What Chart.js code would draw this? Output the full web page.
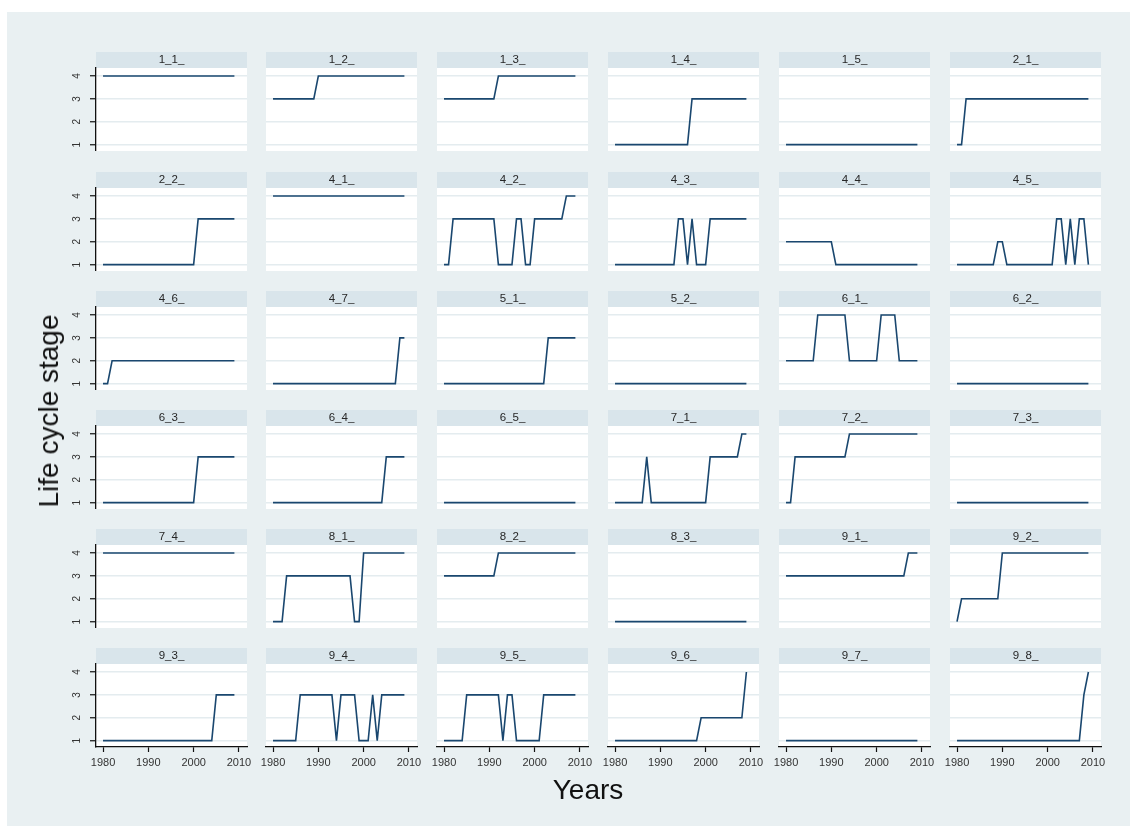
<!DOCTYPE html>
<html>
<head>
<meta charset="utf-8">
<script src="https://cdn.jsdelivr.net/npm/chart.js@4.4.1/dist/chart.umd.min.js"></script>
<style>
  html, body { margin: 0; padding: 0; background: #ffffff; }
  body { width: 1130px; height: 826px; position: relative; overflow: hidden;
         font-family: "Liberation Sans", Arial, sans-serif; }
  #bg { position: absolute; left: 7px; top: 12px; width: 1123px; height: 814px; background: #e9f0f2; }
  canvas { position: absolute; }
  .axis-title { position: absolute; color: #111; font-size: 28px; line-height: 28px; white-space: nowrap; }
  #ytitle { left: 49px; top: 411px; transform: translate(-50%, -50%) rotate(-90deg); }
  #xtitle { left: 588px; top: 776px; transform: translateX(-50%); }
</style>
</head>
<body>
<div id="bg"></div>
<div id="panels"></div>
<div id="ytitle" class="axis-title">Life cycle stage</div>
<div id="xtitle" class="axis-title">Years</div>
<script>
// Observation years (one value per year for every unit)
const years = [1980, 1981, 1982, 1983, 1984, 1985, 1986, 1987, 1988, 1989,
               1990, 1991, 1992, 1993, 1994, 1995, 1996, 1997, 1998, 1999,
               2000, 2001, 2002, 2003, 2004, 2005, 2006, 2007, 2008, 2009];

const xTickValues = [1980, 1990, 2000, 2010];
const yTickValues = [1, 2, 3, 4];

// Life cycle stage by year, one array per unit
const p1_1 = [4,4,4,4,4,4,4,4,4,4, 4,4,4,4,4,4,4,4,4,4, 4,4,4,4,4,4,4,4,4,4];
const p1_2 = [3,3,3,3,3,3,3,3,3,3, 4,4,4,4,4,4,4,4,4,4, 4,4,4,4,4,4,4,4,4,4];
const p1_3 = [3,3,3,3,3,3,3,3,3,3, 3,3,4,4,4,4,4,4,4,4, 4,4,4,4,4,4,4,4,4,4];
const p1_4 = [1,1,1,1,1,1,1,1,1,1, 1,1,1,1,1,1,1,3,3,3, 3,3,3,3,3,3,3,3,3,3];
const p1_5 = [1,1,1,1,1,1,1,1,1,1, 1,1,1,1,1,1,1,1,1,1, 1,1,1,1,1,1,1,1,1,1];
const p2_1 = [1,1,3,3,3,3,3,3,3,3, 3,3,3,3,3,3,3,3,3,3, 3,3,3,3,3,3,3,3,3,3];

const p2_2 = [1,1,1,1,1,1,1,1,1,1, 1,1,1,1,1,1,1,1,1,1, 1,3,3,3,3,3,3,3,3,3];
const p4_1 = [4,4,4,4,4,4,4,4,4,4, 4,4,4,4,4,4,4,4,4,4, 4,4,4,4,4,4,4,4,4,4];
const p4_2 = [1,1,3,3,3,3,3,3,3,3, 3,3,1,1,1,1,3,3,1,1, 3,3,3,3,3,3,3,4,4,4];
const p4_3 = [1,1,1,1,1,1,1,1,1,1, 1,1,1,1,3,3,1,3,1,1, 1,3,3,3,3,3,3,3,3,3];
const p4_4 = [2,2,2,2,2,2,2,2,2,2, 2,1,1,1,1,1,1,1,1,1, 1,1,1,1,1,1,1,1,1,1];
const p4_5 = [1,1,1,1,1,1,1,1,1,2, 2,1,1,1,1,1,1,1,1,1, 1,1,3,3,1,3,1,3,3,1];

const p4_6 = [1,1,2,2,2,2,2,2,2,2, 2,2,2,2,2,2,2,2,2,2, 2,2,2,2,2,2,2,2,2,2];
const p4_7 = [1,1,1,1,1,1,1,1,1,1, 1,1,1,1,1,1,1,1,1,1, 1,1,1,1,1,1,1,1,3,3];
const p5_1 = [1,1,1,1,1,1,1,1,1,1, 1,1,1,1,1,1,1,1,1,1, 1,1,1,3,3,3,3,3,3,3];
const p5_2 = [1,1,1,1,1,1,1,1,1,1, 1,1,1,1,1,1,1,1,1,1, 1,1,1,1,1,1,1,1,1,1];
const p6_1 = [2,2,2,2,2,2,2,4,4,4, 4,4,4,4,2,2,2,2,2,2, 2,4,4,4,4,2,2,2,2,2];
const p6_2 = [1,1,1,1,1,1,1,1,1,1, 1,1,1,1,1,1,1,1,1,1, 1,1,1,1,1,1,1,1,1,1];

const p6_3 = [1,1,1,1,1,1,1,1,1,1, 1,1,1,1,1,1,1,1,1,1, 1,3,3,3,3,3,3,3,3,3];
const p6_4 = [1,1,1,1,1,1,1,1,1,1, 1,1,1,1,1,1,1,1,1,1, 1,1,1,1,1,3,3,3,3,3];
const p6_5 = [1,1,1,1,1,1,1,1,1,1, 1,1,1,1,1,1,1,1,1,1, 1,1,1,1,1,1,1,1,1,1];
const p7_1 = [1,1,1,1,1,1,1,3,1,1, 1,1,1,1,1,1,1,1,1,1, 1,3,3,3,3,3,3,3,4,4];
const p7_2 = [1,1,3,3,3,3,3,3,3,3, 3,3,3,3,4,4,4,4,4,4, 4,4,4,4,4,4,4,4,4,4];
const p7_3 = [1,1,1,1,1,1,1,1,1,1, 1,1,1,1,1,1,1,1,1,1, 1,1,1,1,1,1,1,1,1,1];

const p7_4 = [4,4,4,4,4,4,4,4,4,4, 4,4,4,4,4,4,4,4,4,4, 4,4,4,4,4,4,4,4,4,4];
const p8_1 = [1,1,1,3,3,3,3,3,3,3, 3,3,3,3,3,3,3,3,1,1, 4,4,4,4,4,4,4,4,4,4];
const p8_2 = [3,3,3,3,3,3,3,3,3,3, 3,3,4,4,4,4,4,4,4,4, 4,4,4,4,4,4,4,4,4,4];
const p8_3 = [1,1,1,1,1,1,1,1,1,1, 1,1,1,1,1,1,1,1,1,1, 1,1,1,1,1,1,1,1,1,1];
const p9_1 = [3,3,3,3,3,3,3,3,3,3, 3,3,3,3,3,3,3,3,3,3, 3,3,3,3,3,3,3,4,4,4];
const p9_2 = [1,2,2,2,2,2,2,2,2,2, 4,4,4,4,4,4,4,4,4,4, 4,4,4,4,4,4,4,4,4,4];

const p9_3 = [1,1,1,1,1,1,1,1,1,1, 1,1,1,1,1,1,1,1,1,1, 1,1,1,1,1,3,3,3,3,3];
const p9_4 = [1,1,1,1,1,1,3,3,3,3, 3,3,3,3,1,3,3,3,3,1, 1,1,3,1,3,3,3,3,3,3];
const p9_5 = [1,1,1,1,1,3,3,3,3,3, 3,3,3,1,3,3,1,1,1,1, 1,1,3,3,3,3,3,3,3,3];
const p9_6 = [1,1,1,1,1,1,1,1,1,1, 1,1,1,1,1,1,1,1,1,2, 2,2,2,2,2,2,2,2,2,4];
const p9_7 = [1,1,1,1,1,1,1,1,1,1, 1,1,1,1,1,1,1,1,1,1, 1,1,1,1,1,1,1,1,1,1];
const p9_8 = [1,1,1,1,1,1,1,1,1,1, 1,1,1,1,1,1,1,1,1,1, 1,1,1,1,1,1,1,1,3,4];

// Panel captions, in reading order (6 per row)
const panelLabels = [
  '1_1_', '1_2_', '1_3_', '1_4_', '1_5_', '2_1_',
  '2_2_', '4_1_', '4_2_', '4_3_', '4_4_', '4_5_',
  '4_6_', '4_7_', '5_1_', '5_2_', '6_1_', '6_2_',
  '6_3_', '6_4_', '6_5_', '7_1_', '7_2_', '7_3_',
  '7_4_', '8_1_', '8_2_', '8_3_', '9_1_', '9_2_',
  '9_3_', '9_4_', '9_5_', '9_6_', '9_7_', '9_8_'
];
const panelSeries = [
  p1_1, p1_2, p1_3, p1_4, p1_5, p2_1,
  p2_2, p4_1, p4_2, p4_3, p4_4, p4_5,
  p4_6, p4_7, p5_1, p5_2, p6_1, p6_2,
  p6_3, p6_4, p6_5, p7_1, p7_2, p7_3,
  p7_4, p8_1, p8_2, p8_3, p9_1, p9_2,
  p9_3, p9_4, p9_5, p9_6, p9_7, p9_8
];

// Grid geometry
const NCOL = 6;
const colLeft = [96, 266, 437, 608, 779, 950];
const rowTop = [52, 172, 291, 410, 529, 648];
const PANEL_W = 151, HEAD_H = 16, PLOT_H = 83;
const AXIS_W = 40, RIGHT_PAD = 16, XAXIS_H = 22;

const FONT = 'Liberation Sans, Arial, sans-serif';
const LINE_COLOR = '#1a476f';
const GRID_COLOR = '#e4ecef';
const HEAD_FILL = '#d9e5eb';
const AXIS_COLOR = '#111111';
const TICK_TEXT = '#333333';

// Paints the caption strip and the white plotting region
const panelBackground = {
  id: 'panelBackground',
  beforeDraw(chart) {
    const ctx = chart.ctx, a = chart.chartArea, t = chart.titleBlock;
    ctx.save();
    ctx.fillStyle = HEAD_FILL;
    ctx.fillRect(a.left, t.top, a.right - a.left, t.height);
    ctx.fillStyle = '#ffffff';
    ctx.fillRect(a.left, a.top, a.right - a.left, a.bottom - a.top);
    ctx.restore();
  }
};

// Keep every panel's plotting area the same fixed size
const fixScale = size => s => {
  if (s.isHorizontal()) { s.height = size; } else { s.width = size; }
  s.paddingTop = 0; s.paddingBottom = 0; s.paddingLeft = 0; s.paddingRight = 0;
};

const host = document.getElementById('panels');
const nRows = Math.ceil(panelLabels.length / NCOL);

panelLabels.forEach((label, i) => {
  const row = Math.floor(i / NCOL), col = i % NCOL;
  const firstCol = col === 0, lastRow = row === nRows - 1;

  const canvas = document.createElement('canvas');
  const w = AXIS_W + PANEL_W + RIGHT_PAD;
  const h = HEAD_H + PLOT_H + (lastRow ? XAXIS_H : 0);
  canvas.width = w; canvas.height = h;
  canvas.style.width = w + 'px'; canvas.style.height = h + 'px';
  canvas.style.left = (colLeft[col] - AXIS_W) + 'px';
  canvas.style.top = rowTop[row] + 'px';
  host.appendChild(canvas);

  const values = panelSeries[i];
  new Chart(canvas, {
    type: 'line',
    data: {
      datasets: [{
        data: years.map((yr, k) => ({ x: yr, y: values[k] })),
        borderColor: LINE_COLOR,
        borderWidth: 1.6,
        pointRadius: 0,
        tension: 0,
        fill: false
      }]
    },
    options: {
      responsive: false,
      animation: false,
      devicePixelRatio: 1,
      events: [],
      layout: { padding: { left: 0, right: RIGHT_PAD, top: 0, bottom: 0 } },
      plugins: {
        legend: { display: false },
        tooltip: { enabled: false },
        title: {
          display: true,
          text: label,
          fullSize: false,
          padding: 0,
          color: '#262626',
          font: { family: FONT, size: 11.5, weight: 'normal', lineHeight: HEAD_H + 'px' }
        }
      },
      scales: {
        x: {
          type: 'linear',
          display: lastRow,
          min: 1978.45,
          max: 2011.78,
          afterBuildTicks: s => { s.ticks = xTickValues.map(v => ({ value: v })); },
          afterFit: fixScale(lastRow ? XAXIS_H : 0),
          border: { display: true, color: AXIS_COLOR, width: 1.3 },
          grid: { drawOnChartArea: false, drawTicks: true, tickLength: 5, tickColor: AXIS_COLOR, tickWidth: 1.2 },
          ticks: {
            display: true, autoSkip: false, maxRotation: 0, minRotation: 0, padding: 4,
            color: TICK_TEXT, font: { family: FONT, size: 11 },
            callback: v => String(v)
          }
        },
        y: {
          type: 'linear',
          position: 'left',
          min: 0.72,
          max: 4.35,
          afterBuildTicks: s => { s.ticks = yTickValues.map(v => ({ value: v })); },
          afterFit: fixScale(AXIS_W),
          border: { display: firstCol, color: AXIS_COLOR, width: 1.3 },
          grid: {
            color: GRID_COLOR, lineWidth: 1.5,
            drawTicks: firstCol, tickLength: 6, tickColor: AXIS_COLOR, tickWidth: 1.2
          },
          ticks: {
            display: firstCol, minRotation: 90, maxRotation: 90, crossAlign: 'center', padding: 10,
            color: TICK_TEXT, font: { family: FONT, size: 10 },
            callback: v => String(v)
          }
        }
      }
    },
    plugins: [panelBackground]
  });
});
</script>
</body>
</html>
